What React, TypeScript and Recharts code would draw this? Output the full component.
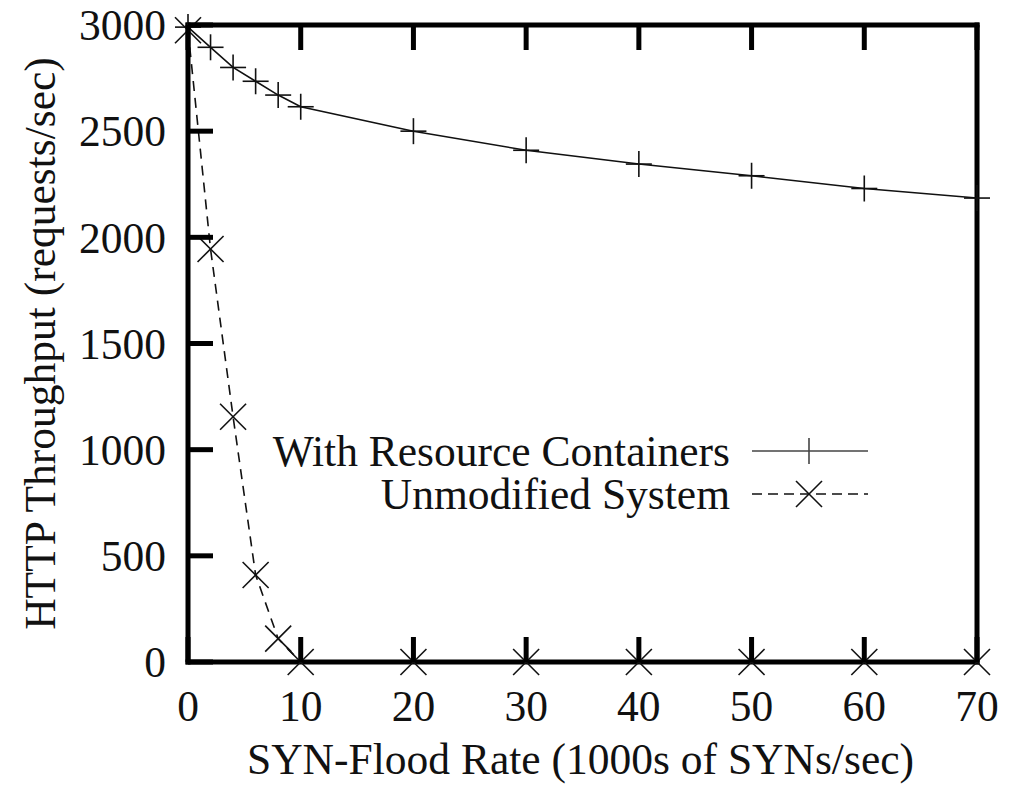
import React from 'react';
import { LineChart, Line, XAxis, YAxis, Legend } from 'recharts';

const xValues = [0, 2, 4, 6, 8, 10, 20, 30, 40, 50, 60, 70];
const withContainers = [2990, 2895, 2800, 2735, 2670, 2615, 2500, 2410, 2345, 2290, 2230, 2185];
const unmodified = [2975, 1945, 1155, 410, 110, 0, 0, 0, 0, 0, 0, 0];
const xTicks = [0, 10, 20, 30, 40, 50, 60, 70];
const yTicks = [0, 500, 1000, 1500, 2000, 2500, 3000];
const seriesNames = ['With Resource Containers', 'Unmodified System'];

const data = xValues.map((x, i) => ({ x, rc: withContainers[i], un: unmodified[i] }));

const FONT = '"Liberation Serif", "Times New Roman", serif';
const TICK_LEN = 25;
const TICK_W = 5;
const FS = 43.5;
const INK = '#111';

const BottomTick = (props: any) => {
  const { x, y, payload } = props;
  return (
    <g>
      <line x1={x} x2={x} y1={y} y2={y - TICK_LEN} stroke="#000" strokeWidth={TICK_W} />
      <text x={x} y={y + 44} dy="0.35em" textAnchor="middle" fontFamily={FONT} fontSize={FS} fill={INK}>
        {payload.value}
      </text>
    </g>
  );
};
const TopTick = (props: any) => {
  const { x, y } = props;
  return <line x1={x} x2={x} y1={y} y2={y + TICK_LEN} stroke="#000" strokeWidth={TICK_W} />;
};
const LeftTick = (props: any) => {
  const { x, y, payload } = props;
  return (
    <g>
      <line x1={x} x2={x + TICK_LEN} y1={y} y2={y} stroke="#000" strokeWidth={TICK_W} />
      <text x={x - 22} y={y} dy="0.35em" textAnchor="end" fontFamily={FONT} fontSize={FS} fill={INK}>
        {payload.value}
      </text>
    </g>
  );
};
const RightTick = (props: any) => {
  const { x, y } = props;
  return <line x1={x} x2={x - TICK_LEN} y1={y} y2={y} stroke="#000" strokeWidth={TICK_W} />;
};

const PlusDot = (props: any) => {
  const { cx, cy, index } = props;
  if (cx == null || cy == null) return <g key={index} />;
  return (
    <g key={index}>
      <line x1={cx - 13} x2={cx + 13} y1={cy} y2={cy} stroke={INK} strokeWidth={1.6} />
      <line x1={cx} x2={cx} y1={cy - 13} y2={cy + 13} stroke={INK} strokeWidth={1.6} />
    </g>
  );
};
const CrossDot = (props: any) => {
  const { cx, cy, index } = props;
  if (cx == null || cy == null) return <g key={index} />;
  const s = 13;
  return (
    <g key={index}>
      <line x1={cx - s} x2={cx + s} y1={cy - s} y2={cy + s} stroke={INK} strokeWidth={1.6} />
      <line x1={cx - s} x2={cx + s} y1={cy + s} y2={cy - s} stroke={INK} strokeWidth={1.6} />
    </g>
  );
};

const LegendContent = () => (
  <svg width={640} height={110}>
    <text x={472} y={33} dy="0.35em" textAnchor="end" fontFamily={FONT} fontSize={FS} fill={INK}>
      {seriesNames[0]}
    </text>
    <line x1={494} x2={610} y1={33} y2={33} stroke="#444" strokeWidth={1.6} />
    <line x1={551} x2={551} y1={20} y2={46} stroke="#444" strokeWidth={1.6} />
    <text x={472} y={76} dy="0.35em" textAnchor="end" fontFamily={FONT} fontSize={FS} fill={INK}>
      {seriesNames[1]}
    </text>
    <line x1={494} x2={610} y1={76} y2={76} stroke={INK} strokeWidth={1.6} strokeDasharray="10 6" />
    <line x1={538} x2={564} y1={63} y2={89} stroke={INK} strokeWidth={1.6} />
    <line x1={538} x2={564} y1={89} y2={63} stroke={INK} strokeWidth={1.6} />
  </svg>
);

export default function App() {
  return (
    <div style={{ width: 1000, height: 785, background: '#fff' }}>
      <LineChart
        width={1000}
        height={785}
        data={data}
        margin={{ top: 16, right: 30, left: 30, bottom: 19 }}
      >
        <XAxis
          dataKey="x"
          type="number"
          domain={[0, 70]}
          ticks={xTicks}
          height={112}
          tickSize={0}
          tickMargin={0}
          tick={<BottomTick />}
          axisLine={{ stroke: '#000', strokeWidth: 5, strokeLinecap: 'square' }}
          label={{
            value: 'SYN-Flood Rate (1000s of SYNs/sec)',
            position: 'insideBottom',
            offset: 0,
            dx: -2,
            style: { fontFamily: FONT, fontSize: FS, fill: INK },
          }}
        />
        <XAxis
          xAxisId="top"
          dataKey="x"
          type="number"
          orientation="top"
          domain={[0, 70]}
          ticks={xTicks}
          height={1}
          tickSize={0}
          tickMargin={0}
          tick={<TopTick />}
          axisLine={{ stroke: '#000', strokeWidth: 5, strokeLinecap: 'square' }}
        />
        <YAxis
          type="number"
          domain={[0, 3000]}
          ticks={yTicks}
          width={150}
          tickSize={0}
          tickMargin={0}
          tick={<LeftTick />}
          axisLine={{ stroke: '#000', strokeWidth: 5, strokeLinecap: 'square' }}
          label={{
            value: 'HTTP Throughput (requests/sec)',
            angle: -90,
            position: 'insideLeft',
            offset: 2,
            style: { textAnchor: 'middle', fontFamily: FONT, fontSize: FS, fill: INK },
          }}
        />
        <YAxis
          yAxisId="right"
          orientation="right"
          type="number"
          domain={[0, 3000]}
          ticks={yTicks}
          width={1}
          tickSize={0}
          tickMargin={0}
          tick={<RightTick />}
          axisLine={{ stroke: '#000', strokeWidth: 5, strokeLinecap: 'square' }}
        />
        <Legend
          layout="vertical"
          align="center"
          verticalAlign="middle"
          content={<LegendContent />}
          wrapperStyle={{ position: 'absolute', left: 250, top: 410, width: 640, height: 110 }}
        />
        <Line
          dataKey="rc"
          name={seriesNames[0]}
          type="linear"
          stroke={INK}
          strokeWidth={1.6}
          dot={<PlusDot />}
          activeDot={false}
          isAnimationActive={false}
        />
        <Line
          dataKey="un"
          name={seriesNames[1]}
          type="linear"
          stroke={INK}
          strokeWidth={1.6}
          strokeDasharray="10 7"
          dot={<CrossDot />}
          activeDot={false}
          isAnimationActive={false}
        />
      </LineChart>
    </div>
  );
}
